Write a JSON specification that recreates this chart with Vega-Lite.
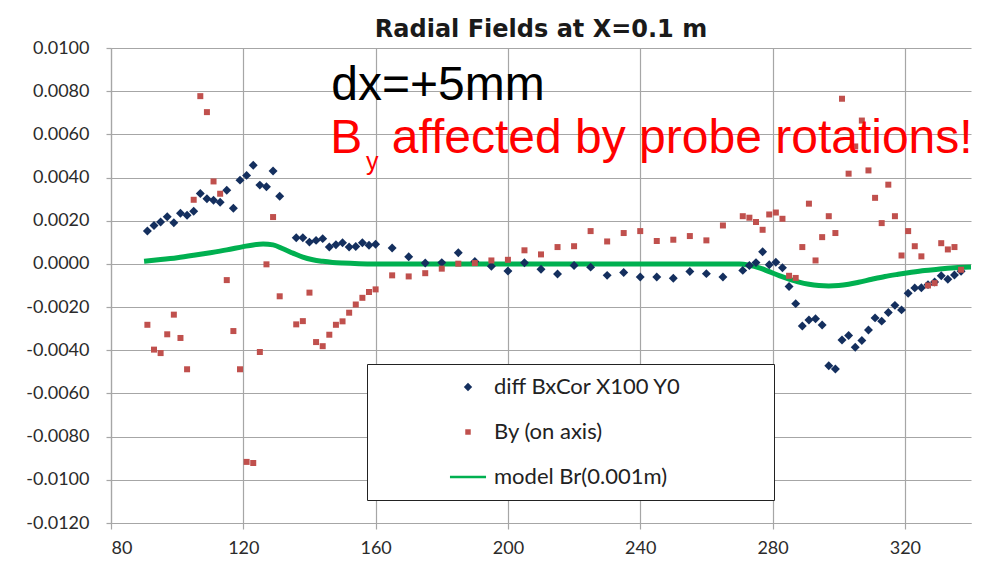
{
  "$schema": "https://vega.github.io/schema/vega-lite/v6.json",
  "width": 860,
  "height": 475,
  "autosize": {"type": "none"},
  "padding": {"left": 111, "top": 48, "right": 15, "bottom": 41},
  "background": "white",
  "title": {"text": "Radial Fields at X=0.1  m", "font": "DejaVu Sans", "fontSize": 24, "fontWeight": "bold", "color": "#1a1a1a", "anchor": "middle", "offset": -3},
  "datasets": {
    "diff": [
      {"x":91,"v":0.00152},{"x":93,"v":0.00178},{"x":95,"v":0.00194},{"x":97,"v":0.00218},{"x":99,"v":0.00191},
      {"x":101,"v":0.00235},{"x":103,"v":0.00225},{"x":105,"v":0.00244},{"x":107,"v":0.00326},{"x":109,"v":0.00302},
      {"x":111,"v":0.00295},{"x":113,"v":0.00286},{"x":115,"v":0.00341},{"x":117,"v":0.00258},{"x":119,"v":0.00388},
      {"x":121,"v":0.0041},{"x":123,"v":0.00457},{"x":125,"v":0.00365},{"x":127,"v":0.00357},{"x":129,"v":0.0043},
      {"x":131,"v":0.00313},{"x":136,"v":0.00121},{"x":138,"v":0.00121},{"x":140,"v":0.00101},{"x":142,"v":0.00109},
      {"x":144,"v":0.00117},{"x":146,"v":0.00078},{"x":148,"v":0.00089},{"x":150,"v":0.00098},{"x":152,"v":0.00078},
      {"x":154,"v":0.00081},{"x":156,"v":0.00098},{"x":158,"v":0.00086},{"x":160,"v":0.00091},{"x":165,"v":0.00074},
      {"x":170,"v":0.00033},{"x":175,"v":0.00004},{"x":180,"v":0.00006},{"x":185,"v":0.00052},{"x":190,"v":0.00011},
      {"x":195,"v":-0.00011},{"x":200,"v":-0.00033},{"x":205,"v":0.00005},{"x":210,"v":-0.00025},{"x":215,"v":-0.00047},
      {"x":220,"v":-0.00007},{"x":225,"v":-0.00015},{"x":230,"v":-0.00053},{"x":235,"v":-0.0004},{"x":240,"v":-0.00061},
      {"x":245,"v":-0.00061},{"x":250,"v":-0.00066},{"x":255,"v":-0.00035},{"x":260,"v":-0.00045},{"x":265,"v":-0.00061},
      {"x":271,"v":-0.0003},{"x":273,"v":-0.00007},{"x":275,"v":0.00006},{"x":277,"v":0.00056},{"x":279,"v":-0.00004},
      {"x":281,"v":0.00008},{"x":283,"v":-0.00018},{"x":285,"v":-0.00105},{"x":287,"v":-0.00184},{"x":289,"v":-0.00288},
      {"x":291,"v":-0.0026},{"x":293,"v":-0.00254},{"x":295,"v":-0.00283},{"x":297,"v":-0.00472},{"x":299,"v":-0.00487},
      {"x":301,"v":-0.00352},{"x":303,"v":-0.00332},{"x":305,"v":-0.00386},{"x":307,"v":-0.00355},{"x":309,"v":-0.00306},
      {"x":311,"v":-0.0025},{"x":313,"v":-0.00265},{"x":315,"v":-0.00225},{"x":317,"v":-0.00192},{"x":319,"v":-0.00213},
      {"x":321,"v":-0.00136},{"x":323,"v":-0.00111},{"x":325,"v":-0.0011},{"x":327,"v":-0.00096},{"x":329,"v":-0.00084},
      {"x":331,"v":-0.00055},{"x":333,"v":-0.00071},{"x":335,"v":-0.00051},{"x":337,"v":-0.00034}
    ],
    "by": [
      {"x":91,"v":-0.00282},{"x":93,"v":-0.00397},{"x":95,"v":-0.00413},{"x":97,"v":-0.00326},{"x":99,"v":-0.00235},
      {"x":101,"v":-0.00343},{"x":103,"v":-0.00488},{"x":105,"v":0.00297},{"x":107,"v":0.00777},{"x":109,"v":0.00703},
      {"x":111,"v":0.00382},{"x":113,"v":0.00325},{"x":115,"v":-0.00075},{"x":117,"v":-0.00311},{"x":119,"v":-0.00488},
      {"x":121,"v":-0.00917},{"x":123,"v":-0.00922},{"x":125,"v":-0.00408},{"x":127,"v":-0.00002},{"x":129,"v":0.00217},
      {"x":131,"v":-0.0015},{"x":136,"v":-0.0028},{"x":138,"v":-0.00265},{"x":140,"v":-0.00133},{"x":142,"v":-0.00362},
      {"x":144,"v":-0.00381},{"x":146,"v":-0.00328},{"x":148,"v":-0.00282},{"x":150,"v":-0.00266},{"x":152,"v":-0.00226},
      {"x":154,"v":-0.00188},{"x":156,"v":-0.00157},{"x":158,"v":-0.0013},{"x":160,"v":-0.00118},{"x":165,"v":-0.00053},
      {"x":170,"v":-0.00058},{"x":175,"v":-0.00043},{"x":180,"v":-0.00022},{"x":185,"v":0.00001},{"x":190,"v":0.00004},
      {"x":195,"v":0.00016},{"x":200,"v":0.00019},{"x":205,"v":0.00063},{"x":210,"v":0.00044},{"x":215,"v":0.00078},
      {"x":220,"v":0.00082},{"x":225,"v":0.00152},{"x":230,"v":0.00104},{"x":235,"v":0.00143},{"x":240,"v":0.00152},
      {"x":245,"v":0.00106},{"x":250,"v":0.00112},{"x":255,"v":0.00129},{"x":260,"v":0.00109},{"x":265,"v":0.00178},
      {"x":271,"v":0.00221},{"x":273,"v":0.00214},{"x":275,"v":0.00194},{"x":277,"v":0.00158},{"x":279,"v":0.00229},
      {"x":281,"v":0.00238},{"x":283,"v":0.00209},{"x":285,"v":-0.00055},{"x":287,"v":-0.00065},{"x":289,"v":0.00078},
      {"x":291,"v":0.00279},{"x":293,"v":0.00016},{"x":295,"v":0.00124},{"x":297,"v":0.00221},{"x":299,"v":0.00143},
      {"x":301,"v":0.00765},{"x":303,"v":0.00418},{"x":305,"v":0.00544},{"x":307,"v":0.00664},{"x":309,"v":0.00433},
      {"x":311,"v":0.00306},{"x":313,"v":0.00189},{"x":315,"v":0.00367},{"x":317,"v":0.00221},{"x":319,"v":0.00039},
      {"x":321,"v":0.00152},{"x":323,"v":0.00082},{"x":325,"v":0.00035},{"x":327,"v":-0.001},{"x":329,"v":-0.00089},
      {"x":331,"v":0.00096},{"x":333,"v":0.00067},{"x":335,"v":0.00078},{"x":337,"v":-0.00027}
    ],
    "model": [
      {"x":90,"v":0.00012},{"x":95,"v":0.0002},{"x":100,"v":0.00029},{"x":105,"v":0.0004},{"x":110,"v":0.00052},
      {"x":115,"v":0.00065},{"x":120,"v":0.0008},{"x":123,"v":0.00088},{"x":126,"v":0.00092},{"x":129,"v":0.00088},
      {"x":132,"v":0.0007},{"x":135,"v":0.0005},{"x":138,"v":0.00031},{"x":141,"v":0.00019},{"x":144,"v":0.00012},
      {"x":147,"v":0.00007},{"x":150,"v":0.00004},{"x":155,"v":0.00001},{"x":160,"v":0},{"x":180,"v":0},
      {"x":200,"v":0},{"x":220,"v":0},{"x":240,"v":0},{"x":260,"v":0},{"x":270,"v":0},
      {"x":273,"v":-0.00006},{"x":276,"v":-0.00018},{"x":279,"v":-0.00036},{"x":282,"v":-0.00054},{"x":285,"v":-0.0007},
      {"x":288,"v":-0.00084},{"x":291,"v":-0.00094},{"x":294,"v":-0.001},{"x":297,"v":-0.00102},{"x":300,"v":-0.001},
      {"x":303,"v":-0.00094},{"x":306,"v":-0.00085},{"x":310,"v":-0.00071},{"x":314,"v":-0.00058},{"x":318,"v":-0.00048},
      {"x":322,"v":-0.00039},{"x":326,"v":-0.00031},{"x":330,"v":-0.00025},{"x":334,"v":-0.00019},{"x":338,"v":-0.00015},
      {"x":340,"v":-0.00014}
    ],
    "one": [{"n": 1}]
  },
  "layer": [
    {
      "data": {"name": "model"},
      "mark": {"type": "line", "strokeWidth": 5, "interpolate": "monotone"},
      "encoding": {
        "x": {"field": "x", "type": "quantitative",
          "scale": {"domain": [80, 340], "nice": false, "zero": false},
          "axis": {"values": [80, 120, 160, 200, 240, 280, 320], "title": null, "labelPadding": 10, "tickSize": 6}},
        "y": {"field": "v", "type": "quantitative",
          "scale": {"domain": [-0.012, 0.01], "nice": false, "zero": false},
          "axis": {"values": [-0.012, -0.01, -0.008, -0.006, -0.004, -0.002, 0, 0.002, 0.004, 0.006, 0.008, 0.01],
            "title": null, "tickSize": 5, "labelPadding": 17,
            "labelExpr": "(datum.value < -0.0000001 ? '-' : '') + format(abs(datum.value), '.4f')"}},
        "color": {"datum": "model Br(0.001m)", "type": "nominal",
          "scale": {"domain": ["diff BxCor X100 Y0", "By (on axis)", "model Br(0.001m)"], "range": ["#142f5e", "#c0504d", "#00b050"]},
          "legend": {
            "title": null, "orient": "none", "legendX": 256, "legendY": 316,
            "strokeColor": "#222222", "fillColor": "white", "padding": 12,
            "symbolOffset": 78, "symbolSize": 64, "labelOffset": 15, "rowPadding": 23,
            "labelFont": "Lato", "labelFontSize": 22, "labelColor": "#222222", "labelLimit": 900,
            "labelExpr": "datum.label + '\u2800\u2800\u2800\u2800\u2800'",
            "encode": {
              "symbols": {"update": {
                "shape": {"signal": "datum.value === 'model Br(0.001m)' ? 'stroke' : (datum.value === 'By (on axis)' ? 'square' : 'diamond')"},
                "size": {"signal": "datum.value === 'model Br(0.001m)' ? 1300 : (datum.value === 'By (on axis)' ? 30 : 70)"},
                "fill": {"signal": "datum.value === 'model Br(0.001m)' ? 'transparent' : scale('color', datum.value)"},
                "stroke": {"signal": "scale('color', datum.value)"},
                "strokeWidth": {"signal": "datum.value === 'model Br(0.001m)' ? 2.5 : 0"},
                "opacity": {"value": 1}
              }}
            }
          }}
      }
    },
    {
      "data": {"name": "diff"},
      "mark": {"type": "point", "shape": "diamond", "filled": true, "size": 80, "opacity": 1},
      "encoding": {
        "x": {"field": "x", "type": "quantitative"},
        "y": {"field": "v", "type": "quantitative"},
        "color": {"datum": "diff BxCor X100 Y0", "type": "nominal"}}
    },
    {
      "data": {"name": "by"},
      "mark": {"type": "point", "shape": "square", "filled": true, "size": 36, "opacity": 1},
      "encoding": {
        "x": {"field": "x", "type": "quantitative"},
        "y": {"field": "v", "type": "quantitative"},
        "color": {"datum": "By (on axis)", "type": "nominal"}}
    },
    {
      "data": {"name": "one"},
      "mark": {"type": "text", "text": "dx=+5mm", "font": "Liberation Sans", "fontSize": 48, "align": "left", "baseline": "alphabetic", "color": "#000000"},
      "encoding": {"x": {"datum": 146.6, "type": "quantitative"}, "y": {"datum": 0.00759, "type": "quantitative"}}
    },
    {
      "data": {"name": "one"},
      "mark": {"type": "text", "text": "B", "font": "Liberation Sans", "fontSize": 48, "align": "left", "baseline": "alphabetic", "color": "#ff0000"},
      "encoding": {"x": {"datum": 146.3, "type": "quantitative"}, "y": {"datum": 0.00514, "type": "quantitative"}}
    },
    {
      "data": {"name": "one"},
      "mark": {"type": "text", "text": "y", "font": "Liberation Sans", "fontSize": 25, "align": "left", "baseline": "alphabetic", "color": "#ff0000"},
      "encoding": {"x": {"datum": 157.1, "type": "quantitative"}, "y": {"datum": 0.00435, "type": "quantitative"}}
    },
    {
      "data": {"name": "one"},
      "mark": {"type": "text", "text": "affected by probe rotations!", "font": "Liberation Sans", "fontSize": 48, "align": "left", "baseline": "alphabetic", "color": "#ff0000"},
      "encoding": {"x": {"datum": 164.9, "type": "quantitative"}, "y": {"datum": 0.00514, "type": "quantitative"}}
    }
  ],
  "config": {
    "view": {"stroke": null},
    "axis": {
      "labelFont": "Lato", "labelFontSize": 18, "labelColor": "#2b2b2b",
      "gridColor": "#a6a6a6", "gridWidth": 1.2, "grid": true,
      "domainColor": "#a6a6a6", "domainWidth": 1.2, "tickColor": "#a6a6a6", "tickWidth": 1.2
    }
  }
}
